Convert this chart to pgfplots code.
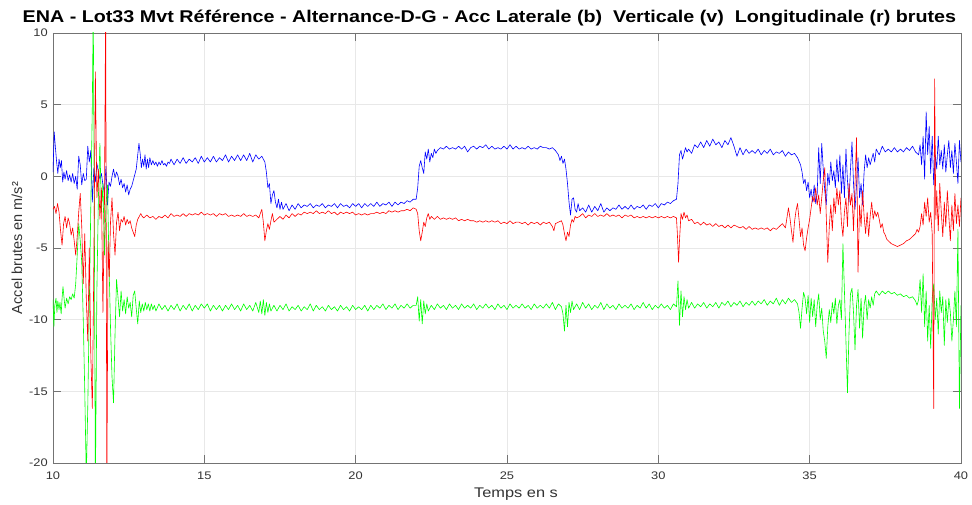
\documentclass[border=0pt]{standalone}
\usepackage{pgfplots}
\pgfplotsset{compat=1.18}
\usepackage{fontspec}
\setmainfont{Liberation Sans}
\definecolor{axgray}{gray}{0.45}
\definecolor{lblgray}{gray}{0.2}
\begin{document}
\begin{tikzpicture}
\begin{axis}[
    at={(0,0)}, anchor=south west,
    scale only axis,
    width=908pt, height=430pt,
    xmin=10, xmax=40, ymin=-20, ymax=10,
    xtick={10,15,...,40}, ytick={-20,-15,...,10},
    grid=major,
    major grid style={gray!18, line width=0.5pt},
    axis line style={axgray, line width=0.6pt},
    tick style={axgray, line width=0.6pt},
    tick align=inside, major tick length=8pt,
    ticklabel style={font=\fontsize{11}{12}\selectfont, text=lblgray, xscale=1.17},
    /pgf/number format/assume math mode=true,
    xticklabel style={yshift=-5pt},
    yticklabel style={xshift=-1pt},
    title={ENA - Lot33 Mvt Référence - Alternance-D-G - Acc Laterale (b)\ \ Verticale (v)\ \ Longitudinale (r) brutes},
    title style={font=\bfseries\fontsize{17}{19}\selectfont, xscale=1.16, at={(axis description cs:0.4807,1)}, anchor=base, yshift=4.5pt},
    xlabel={Temps en s},
    ylabel={Accel brutes en m/s²},
    xlabel style={font=\fontsize{14}{15}\selectfont, text=lblgray, xscale=1.17, at={(axis description cs:0.51,-0.0721)}, anchor=center},
    ylabel style={font=\fontsize{14.5}{15}\selectfont, text=lblgray, at={(axis description cs:-0.0396,0.5)}, anchor=center},
    every axis plot/.append style={line width=0.6pt, line join=round},
]
% Laterale (b)
\addplot[blue] coordinates {
(10.00,0.3) (10.04,3.1) (10.08,2.0) (10.12,1.0) (10.16,0.2) (10.20,1.2) (10.24,0.6) (10.28,1.1) (10.32,-0.4) (10.36,0.3)
(10.40,-0.2) (10.45,0.4) (10.50,-0.3) (10.55,0.1) (10.60,-0.4) (10.65,0.2) (10.70,-0.5) (10.75,0.0) (10.80,-0.9) (10.85,1.4)
(10.90,0.8) (10.95,-0.6) (11.00,0.2) (11.05,-0.3) (11.10,-0.2) (11.15,2.1) (11.20,1.0) (11.25,1.8) (11.30,-1.8) (11.35,0.6)
(11.40,-0.4) (11.45,0.9) (11.50,0.3) (11.55,-0.2) (11.60,0.2) (11.65,-0.6) (11.70,-1.2) (11.75,0.7) (11.80,-2.0) (11.85,-0.4)
(11.90,-0.7) (11.95,0.0) (12.00,0.5) (12.05,-0.1) (12.10,0.3) (12.15,0.0) (12.20,-0.6) (12.25,-0.2) (12.30,-0.8) (12.35,-0.5)
(12.40,-1.1) (12.45,-0.6) (12.50,-1.3) (12.55,-0.9) (12.60,-0.7) (12.65,-0.3) (12.70,0.1) (12.75,0.5) (12.80,1.5) (12.84,2.3)
(12.88,1.6) (12.92,0.6) (12.96,1.2) (13.00,0.7) (13.04,1.5) (13.08,0.5) (13.12,1.2) (13.16,0.6) (13.20,1.3) (13.25,0.8)
(13.30,1.1) (13.35,0.8) (13.40,1.0) (13.45,0.7) (13.50,1.0) (13.55,0.8) (13.60,1.1) (13.65,0.8) (13.70,0.9) (13.75,0.7)
(13.80,1.0) (13.85,0.9) (13.90,1.2) (14.0,0.8) (14.1,1.2) (14.2,0.9) (14.3,1.3) (14.4,0.9) (14.5,1.2) (14.6,1.0)
(14.7,1.3) (14.8,0.9) (14.9,1.4) (15.0,1.0) (15.1,1.3) (15.2,1.0) (15.3,1.4) (15.4,1.0) (15.5,1.3) (15.6,1.1)
(15.7,1.5) (15.8,1.0) (15.9,1.4) (16.0,1.1) (16.1,1.5) (16.2,1.1) (16.3,1.5) (16.4,1.1) (16.5,1.6) (16.6,1.0)
(16.7,1.5) (16.8,1.2) (16.9,1.4) (17.0,1.0) (17.05,0.3) (17.1,-0.8) (17.15,-0.5) (17.2,-1.9) (17.25,-1.3) (17.3,-1.0)
(17.35,-1.8) (17.4,-2.2) (17.45,-1.6) (17.5,-2.3) (17.55,-1.8) (17.6,-2.3) (17.7,-1.9) (17.8,-2.4) (17.9,-2.0) (18.0,-2.3)
(18.1,-1.9) (18.2,-2.2) (18.3,-2.0) (18.4,-2.1) (18.5,-1.9) (18.6,-2.2) (18.7,-2.0) (18.8,-2.1) (18.9,-1.9) (19.0,-2.2)
(19.1,-2.0) (19.2,-2.1) (19.3,-1.9) (19.4,-2.2) (19.5,-1.9) (19.6,-2.1) (19.7,-2.0) (19.8,-2.2) (19.9,-1.9) (20.0,-2.1)
(20.1,-1.9) (20.2,-2.2) (20.3,-1.9) (20.4,-2.1) (20.5,-1.9) (20.6,-2.1) (20.7,-1.8) (20.8,-2.1) (20.9,-1.9) (21.0,-2.0)
(21.1,-1.8) (21.2,-2.1) (21.3,-1.8) (21.4,-2.0) (21.5,-1.8) (21.6,-1.9) (21.7,-1.7) (21.8,-1.8) (21.9,-1.6) (22.0,-1.6)
(22.05,-0.8) (22.1,0.7) (22.15,1.1) (22.2,0.6) (22.25,0.2) (22.3,1.7) (22.35,1.2) (22.4,1.9) (22.45,1.0) (22.5,1.6)
(22.55,1.3) (22.6,1.9) (22.65,1.6) (22.7,1.8) (22.8,2.0) (22.9,1.9) (23.0,2.1) (23.1,1.9) (23.2,2.0) (23.3,1.9)
(23.4,2.1) (23.5,1.9) (23.6,2.1) (23.7,1.7) (23.8,2.0) (23.9,2.1) (24.0,1.9) (24.1,2.1) (24.2,2.0) (24.3,2.2)
(24.4,1.9) (24.5,2.1) (24.6,1.9) (24.7,2.0) (24.8,1.9) (24.9,2.1) (25.0,1.9) (25.1,2.2) (25.2,1.9) (25.3,2.1)
(25.4,1.9) (25.5,2.0) (25.6,1.9) (25.7,2.1) (25.8,1.9) (25.9,2.0) (26.0,1.9) (26.1,2.1) (26.2,2.0) (26.3,2.0)
(26.4,1.9) (26.5,2.0) (26.6,1.8) (26.7,1.5) (26.75,1.1) (26.8,1.4) (26.85,0.9) (26.9,1.2) (26.95,0.5) (27.0,-0.5)
(27.05,-1.8) (27.1,-2.7) (27.15,-1.6) (27.2,-1.5) (27.25,-2.3) (27.3,-2.5) (27.35,-1.9) (27.4,-2.4) (27.5,-2.2) (27.6,-2.5)
(27.7,-2.0) (27.8,-2.5) (27.9,-2.1) (28.0,-2.4) (28.1,-1.9) (28.2,-2.5) (28.3,-2.2) (28.4,-2.4) (28.5,-2.2) (28.6,-2.3)
(28.7,-2.0) (28.8,-2.3) (28.9,-2.1) (29.0,-2.3) (29.1,-2.0) (29.2,-2.3) (29.3,-2.1) (29.4,-2.2) (29.5,-2.0) (29.6,-2.3)
(29.7,-2.0) (29.8,-2.1) (29.9,-1.9) (30.0,-2.2) (30.1,-1.9) (30.2,-2.0) (30.3,-1.8) (30.4,-1.9) (30.5,-1.7) (30.6,-1.6)
(30.65,-0.5) (30.7,1.5) (30.75,1.8) (30.8,1.2) (30.85,1.6) (30.9,2.0) (30.95,1.7) (31.0,1.9) (31.1,1.6) (31.2,2.2)
(31.3,2.0) (31.4,2.4) (31.5,2.0) (31.6,2.5) (31.7,2.1) (31.8,2.6) (31.9,2.2) (32.0,2.4) (32.1,2.0) (32.2,2.5)
(32.3,2.2) (32.4,2.7) (32.5,2.1) (32.6,1.4) (32.7,2.0) (32.8,1.5) (32.9,1.9) (33.0,1.6) (33.1,1.8) (33.2,1.6)
(33.3,1.9) (33.4,1.5) (33.5,1.8) (33.6,1.6) (33.7,1.9) (33.8,1.5) (33.9,1.7) (34.0,1.6) (34.1,1.8) (34.2,1.4)
(34.3,1.7) (34.4,1.5) (34.5,1.6) (34.6,1.3) (34.7,0.8) (34.75,0.3) (34.8,-0.5) (34.85,-0.2) (34.9,-1.0) (34.95,-0.4)
(35.0,-1.5) (35.05,-0.9) (35.1,-1.8) (35.15,-0.6) (35.2,-1.9) (35.25,-1.2) (35.3,2.0) (35.35,-0.5) (35.4,2.3) (35.45,0.5)
(35.5,-1.0) (35.55,-2.0) (35.6,0.2) (35.65,-0.6) (35.7,1.0) (35.75,-0.3) (35.8,0.4) (35.85,-0.8) (35.9,1.2) (35.95,-0.4)
(36.0,1.5) (36.05,-1.2) (36.1,0.8) (36.15,-1.5) (36.2,1.9) (36.25,-0.3) (36.3,-1.8) (36.35,0.5) (36.4,2.4) (36.45,-0.5)
(36.5,-2.3) (36.55,-0.6) (36.6,1.3) (36.65,-1.5) (36.7,-0.5) (36.75,-2.0) (36.8,0.3) (36.85,1.5) (36.9,0.6) (36.95,1.3)
(37.0,0.8) (37.1,1.6) (37.15,1.0) (37.2,1.9) (37.3,1.5) (37.4,2.1) (37.5,1.7) (37.6,1.9) (37.7,1.7) (37.8,2.0)
(37.9,1.7) (38.0,1.9) (38.1,1.7) (38.2,2.0) (38.3,1.8) (38.4,2.1) (38.5,1.7) (38.6,1.5) (38.65,2.2) (38.7,0.8)
(38.75,2.8) (38.8,-0.2) (38.85,4.5) (38.9,1.5) (38.95,3.5) (39.0,0.2) (39.05,2.8) (39.1,-0.6) (39.15,1.5) (39.2,0.5)
(39.25,2.8) (39.3,0.8) (39.35,1.8) (39.4,0.5) (39.45,2.2) (39.5,0.3) (39.55,1.5) (39.6,2.5) (39.65,0.6) (39.7,1.8)
(39.75,0.2) (39.8,2.3) (39.85,1.0) (39.9,-0.5) (39.95,2.5) (40.0,1.0)
};
% Verticale (v)
\addplot[green] coordinates {
(10.00,-8.6) (10.03,-10.5) (10.06,-9.0) (10.10,-8.5) (10.13,-9.5) (10.16,-8.7) (10.20,-9.3) (10.23,-8.8) (10.27,-9.6) (10.30,-8.5)
(10.33,-7.7) (10.37,-8.6) (10.40,-9.2) (10.45,-8.5) (10.50,-8.9) (10.55,-8.4) (10.60,-8.6) (10.65,-8.2) (10.70,-8.5) (10.75,-7.5)
(10.80,-5.5) (10.85,-3.3) (10.90,-4.5) (10.95,-6.0) (11.00,-10.0) (11.05,-15.0) (11.10,-21) (11.15,-16.0) (11.20,-9.0) (11.25,-2.0)
(11.30,5.0) (11.33,12) (11.37,-5.0) (11.40,-22) (11.45,-8.0) (11.50,-1.5) (11.55,2.3) (11.60,-2.5) (11.65,-0.5) (11.70,-5.5)
(11.75,-2.0) (11.80,-0.6) (11.85,-6.0) (11.90,-10.5) (11.95,-14.0) (12.00,-15.8) (12.05,-11.0) (12.10,-7.2) (12.15,-8.5) (12.20,-9.8)
(12.25,-8.0) (12.30,-9.4) (12.35,-8.6) (12.40,-9.6) (12.45,-8.4) (12.50,-9.2) (12.55,-8.8) (12.60,-9.8) (12.65,-8.3) (12.70,-8.0)
(12.75,-9.2) (12.80,-10.3) (12.85,-8.7) (12.90,-9.5) (12.95,-8.9) (13.0,-9.4) (13.05,-8.8) (13.1,-9.3) (13.15,-8.9) (13.2,-9.4)
(13.25,-8.9) (13.3,-9.3) (13.35,-9.0) (13.4,-9.4) (13.5,-8.9) (13.6,-9.3) (13.7,-9.0) (13.8,-9.4) (13.9,-9.0) (14.0,-9.3)
(14.1,-8.9) (14.2,-9.4) (14.3,-9.0) (14.4,-9.3) (14.5,-8.9) (14.6,-9.4) (14.7,-9.0) (14.8,-9.3) (14.9,-8.9) (15.0,-9.2)
(15.1,-8.9) (15.2,-9.4) (15.3,-9.0) (15.4,-9.3) (15.5,-9.0) (15.6,-9.4) (15.7,-9.0) (15.8,-9.3) (15.9,-8.9) (16.0,-9.3)
(16.1,-9.0) (16.2,-9.4) (16.3,-8.9) (16.4,-9.3) (16.5,-9.0) (16.6,-9.4) (16.7,-8.8) (16.8,-9.5) (16.85,-8.7) (16.9,-9.6)
(16.95,-8.6) (17.0,-9.7) (17.05,-8.8) (17.1,-9.5) (17.15,-8.9) (17.2,-9.4) (17.3,-9.0) (17.4,-9.4) (17.5,-9.0) (17.6,-9.3)
(17.7,-8.9) (17.8,-9.4) (17.9,-9.1) (18.0,-9.3) (18.1,-9.0) (18.2,-9.4) (18.3,-9.1) (18.4,-9.3) (18.5,-8.9) (18.6,-9.4)
(18.7,-9.0) (18.8,-9.3) (18.9,-9.1) (19.0,-9.4) (19.1,-9.0) (19.2,-9.3) (19.3,-9.1) (19.4,-9.4) (19.5,-9.0) (19.6,-9.3)
(19.7,-9.1) (19.8,-9.4) (19.9,-9.0) (20.0,-9.3) (20.1,-9.1) (20.2,-9.3) (20.3,-9.0) (20.4,-9.4) (20.5,-9.0) (20.6,-9.3)
(20.7,-9.0) (20.8,-9.2) (20.9,-8.9) (21.0,-9.3) (21.1,-9.0) (21.2,-9.2) (21.3,-8.9) (21.4,-9.3) (21.5,-9.0) (21.6,-9.2)
(21.7,-8.9) (21.8,-9.2) (21.9,-9.0) (22.0,-9.0) (22.05,-8.4) (22.1,-10.1) (22.15,-8.6) (22.2,-10.3) (22.25,-8.7) (22.3,-9.6)
(22.35,-8.9) (22.4,-9.4) (22.5,-9.0) (22.6,-9.3) (22.7,-8.9) (22.8,-9.2) (22.9,-9.0) (23.0,-9.3) (23.1,-8.9) (23.2,-9.2)
(23.3,-9.0) (23.4,-9.3) (23.5,-8.9) (23.6,-9.2) (23.7,-9.0) (23.8,-9.2) (23.9,-8.9) (24.0,-9.3) (24.1,-9.0) (24.2,-9.2)
(24.3,-8.9) (24.4,-9.2) (24.5,-9.0) (24.6,-9.3) (24.7,-8.9) (24.8,-9.2) (24.9,-9.0) (25.0,-9.3) (25.1,-8.9) (25.2,-9.2)
(25.3,-9.0) (25.4,-9.2) (25.5,-8.9) (25.6,-9.2) (25.7,-9.0) (25.8,-9.3) (25.9,-8.9) (26.0,-9.2) (26.1,-9.0) (26.2,-9.2)
(26.3,-8.9) (26.4,-9.2) (26.5,-8.8) (26.6,-9.3) (26.7,-8.9) (26.8,-9.1) (26.85,-9.6) (26.9,-10.8) (26.95,-9.0) (27.0,-10.5)
(27.05,-8.8) (27.1,-9.5) (27.15,-8.7) (27.2,-9.3) (27.3,-8.9) (27.4,-9.3) (27.5,-8.8) (27.6,-9.2) (27.7,-8.9) (27.8,-9.3)
(27.9,-9.0) (28.0,-9.2) (28.1,-8.8) (28.2,-9.3) (28.3,-8.9) (28.4,-9.2) (28.5,-9.0) (28.6,-9.3) (28.7,-8.9) (28.8,-9.2)
(28.9,-9.0) (29.0,-9.2) (29.1,-8.9) (29.2,-9.3) (29.3,-9.0) (29.4,-9.2) (29.5,-8.8) (29.6,-9.2) (29.7,-8.9) (29.8,-9.3)
(29.9,-9.0) (30.0,-9.2) (30.1,-8.9) (30.2,-9.2) (30.3,-9.0) (30.4,-9.3) (30.5,-8.9) (30.6,-9.1) (30.65,-7.3) (30.7,-10.4)
(30.75,-8.0) (30.8,-9.8) (30.85,-8.4) (30.9,-9.3) (30.95,-8.6) (31.0,-9.2) (31.1,-8.8) (31.2,-9.2) (31.3,-8.9) (31.4,-9.1)
(31.5,-8.8) (31.6,-9.2) (31.7,-8.9) (31.8,-9.1) (31.9,-8.8) (32.0,-9.2) (32.1,-8.8) (32.2,-9.0) (32.3,-8.7) (32.4,-9.1)
(32.5,-8.8) (32.6,-9.0) (32.7,-8.7) (32.8,-9.1) (32.9,-8.8) (33.0,-9.0) (33.1,-8.7) (33.2,-9.0) (33.3,-8.7) (33.4,-8.9)
(33.5,-8.6) (33.6,-9.0) (33.7,-8.7) (33.8,-8.9) (33.9,-8.5) (34.0,-9.0) (34.1,-8.6) (34.2,-8.9) (34.3,-8.5) (34.4,-8.8)
(34.5,-8.6) (34.6,-8.9) (34.65,-9.5) (34.7,-10.6) (34.75,-9.2) (34.8,-8.1) (34.85,-8.5) (34.9,-9.6) (34.95,-8.3) (35.0,-10.2)
(35.05,-8.5) (35.1,-9.8) (35.15,-8.6) (35.2,-10.5) (35.25,-9.0) (35.3,-8.2) (35.35,-10.0) (35.4,-9.2) (35.45,-10.8) (35.5,-11.5)
(35.55,-12.7) (35.6,-10.5) (35.65,-9.3) (35.7,-10.2) (35.75,-8.8) (35.8,-9.6) (35.85,-8.5) (35.9,-10.3) (35.95,-9.0) (36.0,-8.6)
(36.05,-10.0) (36.1,-4.7) (36.15,-8.0) (36.2,-11.5) (36.25,-15.1) (36.3,-11.0) (36.35,-8.2) (36.4,-7.8) (36.45,-9.5) (36.5,-12.1)
(36.55,-9.0) (36.6,-7.9) (36.65,-10.6) (36.7,-8.5) (36.75,-11.3) (36.8,-9.0) (36.85,-8.3) (36.9,-10.0) (36.95,-8.6) (37.0,-9.2)
(37.05,-8.4) (37.1,-9.0) (37.15,-8.2) (37.2,-8.0) (37.3,-8.3) (37.4,-8.0) (37.5,-8.2) (37.6,-8.0) (37.7,-8.2) (37.8,-8.1)
(37.9,-8.3) (38.0,-8.2) (38.1,-8.4) (38.2,-8.3) (38.3,-8.5) (38.4,-8.4) (38.5,-8.7) (38.55,-9.0) (38.6,-8.6) (38.65,-7.2)
(38.7,-9.5) (38.75,-6.8) (38.8,-10.5) (38.85,-8.0) (38.9,-11.5) (38.95,-9.0) (39.0,-12.0) (39.05,-8.5) (39.1,-7.5) (39.15,-10.0)
(39.2,-8.5) (39.25,-11.0) (39.3,-8.0) (39.35,-9.5) (39.4,-8.4) (39.45,-11.8) (39.5,-8.6) (39.55,-10.2) (39.6,-8.5) (39.65,-9.5)
(39.7,-11.5) (39.75,-10.0) (39.8,-8.0) (39.85,-10.5) (39.9,-3.7) (39.95,-16.2) (40.0,-9.0)
};
% Longitudinale (r)
\addplot[red] coordinates {
(10.00,-2.3) (10.05,-2.1) (10.10,-2.6) (10.15,-1.9) (10.20,-2.5) (10.25,-3.8) (10.30,-4.8) (10.35,-3.3) (10.40,-2.8) (10.45,-3.6)
(10.50,-2.9) (10.55,-3.3) (10.60,-4.1) (10.65,-3.6) (10.70,-4.5) (10.75,-5.5) (10.80,-4.2) (10.85,-2.5) (10.90,-1.2) (10.95,-3.5)
(11.00,-7.5) (11.05,-4.0) (11.10,-8.5) (11.15,-11.5) (11.20,-5.0) (11.25,-12.5) (11.30,-16.2) (11.35,-6.0) (11.40,7.3) (11.45,-1.5)
(11.50,0.5) (11.55,-3.0) (11.60,-0.8) (11.65,-9.5) (11.70,-2.0) (11.74,12) (11.78,-22) (11.82,-4.5) (11.86,-7.0) (11.90,-3.2)
(11.95,-1.5) (12.00,-4.0) (12.05,-5.5) (12.10,-3.2) (12.15,-2.5) (12.20,-3.8) (12.25,-3.0) (12.30,-3.2) (12.35,-2.8) (12.40,-3.4)
(12.45,-3.0) (12.50,-3.3) (12.55,-3.1) (12.60,-3.6) (12.65,-3.9) (12.70,-4.2) (12.75,-3.4) (12.80,-3.0) (12.85,-2.8) (12.90,-2.6)
(12.95,-2.8) (13.0,-2.9) (13.1,-2.7) (13.2,-2.9) (13.3,-2.8) (13.4,-3.0) (13.5,-2.8) (13.6,-2.9) (13.7,-2.7) (13.8,-2.9)
(13.9,-2.6) (14.0,-2.8) (14.1,-2.7) (14.2,-2.8) (14.3,-2.6) (14.4,-2.8) (14.5,-2.6) (14.6,-2.7) (14.7,-2.6) (14.8,-2.7)
(14.9,-2.5) (15.0,-2.7) (15.1,-2.6) (15.2,-2.7) (15.3,-2.6) (15.4,-2.8) (15.5,-2.6) (15.6,-2.7) (15.7,-2.6) (15.8,-2.8)
(15.9,-2.7) (16.0,-2.8) (16.1,-2.7) (16.2,-2.8) (16.3,-2.6) (16.4,-2.8) (16.5,-2.7) (16.6,-2.8) (16.7,-2.7) (16.8,-2.9)
(16.85,-2.6) (16.9,-2.3) (16.95,-3.2) (17.0,-4.5) (17.05,-3.8) (17.1,-3.3) (17.15,-3.7) (17.2,-3.1) (17.25,-2.6) (17.3,-3.2)
(17.4,-3.0) (17.5,-2.8) (17.6,-3.0) (17.7,-2.7) (17.8,-2.9) (17.9,-2.6) (18.0,-2.8) (18.1,-2.6) (18.2,-2.7) (18.3,-2.5)
(18.4,-2.6) (18.5,-2.5) (18.6,-2.6) (18.7,-2.4) (18.8,-2.6) (18.9,-2.5) (19.0,-2.6) (19.1,-2.4) (19.2,-2.6) (19.3,-2.5)
(19.4,-2.7) (19.5,-2.5) (19.6,-2.6) (19.7,-2.5) (19.8,-2.6) (19.9,-2.5) (20.0,-2.7) (20.1,-2.6) (20.2,-2.7) (20.3,-2.6)
(20.4,-2.7) (20.5,-2.6) (20.6,-2.6) (20.7,-2.5) (20.8,-2.6) (20.9,-2.5) (21.0,-2.6) (21.1,-2.4) (21.2,-2.5) (21.3,-2.4)
(21.4,-2.5) (21.5,-2.4) (21.6,-2.4) (21.7,-2.3) (21.8,-2.4) (21.9,-2.2) (22.0,-2.3) (22.05,-2.6) (22.1,-3.8) (22.15,-4.5)
(22.2,-3.9) (22.25,-3.2) (22.3,-3.5) (22.35,-2.9) (22.4,-2.6) (22.45,-3.0) (22.5,-2.8) (22.6,-3.0) (22.7,-2.8) (22.8,-3.0)
(22.9,-2.9) (23.0,-3.0) (23.1,-2.9) (23.2,-3.0) (23.3,-2.9) (23.4,-3.1) (23.5,-3.0) (23.6,-3.1) (23.7,-3.0) (23.8,-3.1)
(23.9,-3.1) (24.0,-3.2) (24.1,-3.1) (24.2,-3.2) (24.3,-3.1) (24.4,-3.2) (24.5,-3.1) (24.6,-3.2) (24.7,-3.1) (24.8,-3.3)
(24.9,-3.2) (25.0,-3.3) (25.1,-3.1) (25.2,-3.3) (25.3,-3.2) (25.4,-3.2) (25.5,-3.3) (25.6,-3.2) (25.7,-3.4) (25.8,-3.2)
(25.9,-3.3) (26.0,-3.2) (26.1,-3.4) (26.2,-3.2) (26.3,-3.3) (26.4,-3.2) (26.5,-3.5) (26.55,-3.8) (26.6,-3.3) (26.7,-3.2)
(26.8,-3.1) (26.85,-3.4) (26.9,-4.0) (26.95,-4.5) (27.0,-3.9) (27.05,-4.2) (27.1,-3.4) (27.15,-3.0) (27.2,-3.2) (27.25,-2.8)
(27.3,-2.9) (27.4,-2.8) (27.5,-2.6) (27.6,-2.9) (27.7,-2.7) (27.8,-2.8) (27.9,-2.6) (28.0,-2.8) (28.1,-2.7) (28.2,-2.8)
(28.3,-2.6) (28.4,-2.8) (28.5,-2.7) (28.6,-2.8) (28.7,-2.7) (28.8,-2.9) (28.9,-2.7) (29.0,-2.8) (29.1,-2.7) (29.2,-2.9)
(29.3,-2.8) (29.4,-2.9) (29.5,-2.8) (29.6,-2.9) (29.7,-2.8) (29.8,-2.9) (29.9,-2.8) (30.0,-2.9) (30.1,-2.8) (30.2,-2.9)
(30.3,-2.8) (30.4,-2.9) (30.5,-2.8) (30.6,-2.9) (30.63,-4.0) (30.67,-6.0) (30.7,-4.5) (30.75,-2.6) (30.8,-3.0) (30.85,-2.5)
(30.9,-2.9) (30.95,-2.7) (31.0,-3.1) (31.1,-3.0) (31.2,-3.3) (31.3,-3.2) (31.4,-3.4) (31.5,-3.2) (31.6,-3.4) (31.7,-3.3)
(31.8,-3.5) (31.9,-3.3) (32.0,-3.5) (32.1,-3.4) (32.2,-3.6) (32.3,-3.4) (32.4,-3.6) (32.5,-3.4) (32.6,-3.5) (32.7,-3.6)
(32.8,-3.5) (32.9,-3.7) (33.0,-3.5) (33.1,-3.7) (33.2,-3.6) (33.3,-3.7) (33.4,-3.6) (33.5,-3.7) (33.6,-3.6) (33.7,-3.8)
(33.8,-3.6) (33.9,-3.7) (34.0,-3.5) (34.1,-3.3) (34.2,-3.6) (34.25,-2.9) (34.3,-2.2) (34.35,-2.9) (34.4,-3.8) (34.45,-4.6)
(34.5,-3.2) (34.55,-2.4) (34.6,-1.9) (34.65,-3.0) (34.7,-4.2) (34.75,-3.6) (34.8,-4.8) (34.85,-5.2) (34.9,-4.3) (34.95,-3.6)
(35.0,-3.0) (35.05,-2.2) (35.1,-1.4) (35.15,-1.8) (35.2,-0.8) (35.25,-2.0) (35.3,-1.3) (35.35,-2.6) (35.4,-1.5) (35.45,-0.3)
(35.5,0.6) (35.55,-2.8) (35.6,-6.0) (35.65,-3.5) (35.7,-2.0) (35.75,-3.8) (35.8,-1.5) (35.85,-2.6) (35.9,-0.8) (35.95,-2.0)
(36.0,-1.0) (36.05,-3.2) (36.1,-4.2) (36.15,-2.5) (36.2,-1.5) (36.25,-3.5) (36.3,-0.5) (36.35,-2.0) (36.4,-1.2) (36.45,-3.8)
(36.5,-0.5) (36.55,2.7) (36.6,-6.7) (36.65,-2.0) (36.7,-3.5) (36.75,-1.0) (36.8,-2.8) (36.85,-4.0) (36.9,-2.5) (36.95,-4.2)
(37.0,-2.8) (37.05,-1.8) (37.1,-3.0) (37.15,-2.4) (37.2,-2.8) (37.25,-2.5) (37.3,-3.0) (37.35,-3.6) (37.4,-3.3) (37.45,-3.9)
(37.5,-4.1) (37.55,-4.4) (37.6,-4.5) (37.7,-4.7) (37.8,-4.8) (37.9,-4.9) (38.0,-4.8) (38.1,-4.7) (38.2,-4.5) (38.3,-4.4)
(38.4,-4.2) (38.5,-4.0) (38.55,-3.7) (38.6,-3.9) (38.65,-3.5) (38.7,-2.6) (38.75,-3.4) (38.8,-1.8) (38.85,-2.8) (38.9,-1.5)
(38.95,-3.2) (39.0,-2.5) (39.05,-4.0) (39.1,-16.2) (39.13,6.8) (39.17,-3.0) (39.2,-1.0) (39.25,-3.8) (39.3,-0.5) (39.35,-2.5)
(39.4,-4.2) (39.45,-1.8) (39.5,-3.5) (39.55,-1.0) (39.6,-2.8) (39.65,-4.5) (39.7,-2.0) (39.75,-3.8) (39.8,-1.2) (39.85,-3.3)
(39.9,-2.0) (39.95,-3.5) (40.0,-1.5)
};
\end{axis}
\path[use as bounding box] (-53pt,-42pt) rectangle (919pt,463pt);
\end{tikzpicture}
\end{document}
